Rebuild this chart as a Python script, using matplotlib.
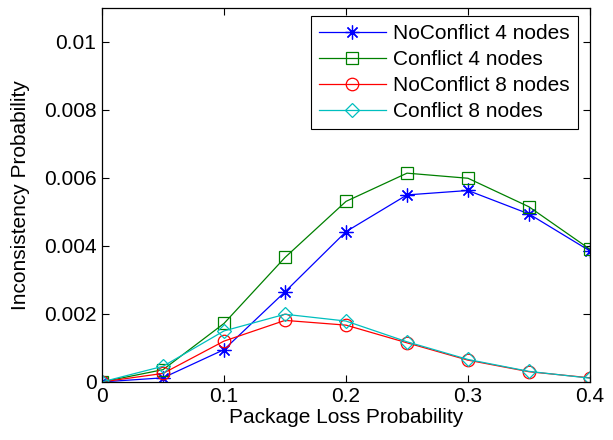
import matplotlib
matplotlib.use("Agg")
import matplotlib.pyplot as plt

plt.rcParams["font.family"] = ["Liberation Sans", "DejaVu Sans"]

# Package loss probability and measured inconsistency probability per setup.
loss = [0, 0.05, 0.1, 0.15, 0.2, 0.25, 0.3, 0.35, 0.4]
noconflict_4 = [0, 0.00012, 0.00095, 0.00265, 0.00442, 0.0055, 0.00563, 0.00494, 0.00385]
conflict_4 = [0, 0.00036, 0.00172, 0.00366, 0.00531, 0.00614, 0.00599, 0.00515, 0.0039]
noconflict_8 = [0, 0.00025, 0.0012, 0.00181, 0.00167, 0.00115, 0.00064, 0.0003, 0.00012]
conflict_8 = [0, 0.00046, 0.0015, 0.00199, 0.00179, 0.00118, 0.00066, 0.00031, 0.00011]

xticks = [0, 0.1, 0.2, 0.3, 0.4]
xticklabels = ["0", "0.1", "0.2", "0.3", "0.4"]
yticks = [0, 0.002, 0.004, 0.006, 0.008, 0.01]
yticklabels = ["0", "0.002", "0.004", "0.006", "0.008", "0.01"]

fs = 15

fig = plt.figure(figsize=(6.13, 4.4), dpi=100)
ax = fig.add_axes([0.1664, 0.132, 0.7961, 0.850])

lw = 0.9
ax.plot(loss, noconflict_4, color=(0, 0, 1), marker=(8, 2, 0), lw=lw, ms=10,
        mfc="none", mew=0.9, label="NoConflict 4 nodes")
ax.plot(loss, conflict_4, color=(0, 0.5, 0), marker="s", lw=lw, ms=8,
        mfc="none", mew=0.9, label="Conflict 4 nodes")
ax.plot(loss, noconflict_8, color=(1, 0, 0), marker="o", lw=lw, ms=9,
        mfc="none", mew=0.9, label="NoConflict 8 nodes")
ax.plot(loss, conflict_8, color=(0, 0.75, 0.75), marker="D", lw=lw, ms=7.5,
        mfc="none", mew=0.9, label="Conflict 8 nodes")

ax.set_xlim(0, 0.4)
ax.set_ylim(0, 0.011)
ax.set_xticks(xticks)
ax.set_xticklabels(xticklabels)
ax.set_yticks(yticks)
ax.set_yticklabels(yticklabels)
ax.tick_params(direction="in", top=True, right=True, labelsize=fs,
               length=5, width=0.8, pad=4)
for sp in ax.spines.values():
    sp.set_linewidth(0.9)

ax.set_xlabel("Package Loss Probability", fontsize=fs, labelpad=1)
ax.set_ylabel("Inconsistency Probability", fontsize=fs, labelpad=10)

leg = ax.legend(loc="upper right", bbox_to_anchor=(0.943, 0.9636),
                bbox_transform=fig.transFigure, borderaxespad=0,
                fontsize=fs, fancybox=False, edgecolor="black", framealpha=1,
                handlelength=3.2, labelspacing=0.33, handletextpad=0.35,
                borderpad=0.4)
leg.get_frame().set_linewidth(0.8)

fig.savefig("out.png", dpi=100)
